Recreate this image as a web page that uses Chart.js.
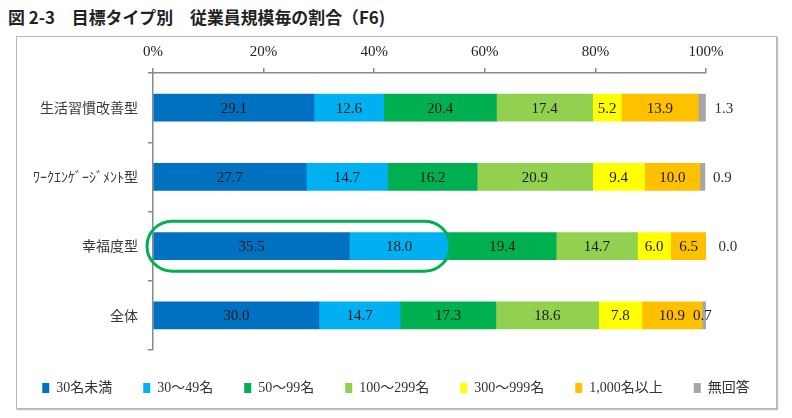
<!DOCTYPE html>
<html lang="ja">
<head>
<meta charset="utf-8">
<title>図 2-3 目標タイプ別 従業員規模毎の割合</title>
<script src="https://cdn.jsdelivr.net/npm/chart.js@4.4.1/dist/chart.umd.min.js"></script>
<style>
  body { margin: 0; background: #fff; }
  #title {
    position: absolute; left: 8px; top: 4px;
    font-family: "Noto Sans CJK JP", sans-serif; font-weight: bold;
    font-size: 16.9px; color: #222; white-space: pre;
  }
  #frame {
    position: absolute; left: 16px; top: 36px; width: 759px; height: 371px;
    border: 1px solid #b8b8b8; box-shadow: 1px 1px 1px rgba(0,0,0,0.25);
  }
  #wrap { position: absolute; left: 0; top: 0; width: 792px; height: 418px; }
</style>
</head>
<body>
<div id="title">図 2-3　目標タイプ別　従業員規模毎の割合（F6)</div>
<div id="frame"></div>
<div id="wrap"><canvas id="chart"></canvas></div>
<script>
const categories = ["生活習慣改善型", "ﾜｰｸｴﾝｹﾞｰｼﾞﾒﾝﾄ型", "幸福度型", "全体"];
const seriesNames = ["30名未満", "30～49名", "50～99名", "100～299名", "300～999名", "1,000名以上", "無回答"];
const under30 = [29.1, 27.7, 35.5, 30.0];
const from30to49 = [12.6, 14.7, 18.0, 14.7];
const from50to99 = [20.4, 16.2, 19.4, 17.3];
const from100to299 = [17.4, 20.9, 14.7, 18.6];
const from300to999 = [5.2, 9.4, 6.0, 7.8];
const over1000 = [13.9, 10.0, 6.5, 10.9];
const noAnswer = [1.3, 0.9, 0.0, 0.7];
const xTicks = [0, 20, 40, 60, 80, 100];

const colors = ["#0070C0", "#00B0F0", "#00B050", "#92D050", "#FFFF00", "#FFC000", "#A6A6A6"];
const serif = "'Liberation Serif', 'Noto Sans CJK JP', serif";
const axisGray = "#8a8a8a";

// highlighted row (幸福度型) and how many segments the ring covers
const highlightRow = 2;
const highlightSegments = 2;

const valueLabels = {
  id: "valueLabels",
  afterDatasetsDraw(chart) {
    const ctx = chart.ctx;
    const last = chart.data.datasets.length - 1;
    const outsideShift = [9, 8, 12, -13];
    ctx.save();
    ctx.font = "15px " + serif;
    ctx.fillStyle = "#1a1a1a";
    ctx.textBaseline = "middle";
    chart.data.datasets.forEach((ds, di) => {
      const meta = chart.getDatasetMeta(di);
      meta.data.forEach((bar, i) => {
        const text = ds.data[i].toFixed(1);
        if (di === last) {
          ctx.textAlign = "left";
          ctx.fillStyle = i === 3 ? "#1a1a1a" : "#333";
          ctx.fillText(text, bar.x + outsideShift[i], bar.y + 1);
        } else {
          ctx.textAlign = "center";
          ctx.fillStyle = "#1a1a1a";
          ctx.fillText(text, (bar.x + bar.base) / 2, bar.y + 1);
        }
      });
    });
    ctx.restore();
  },
};

const highlightRing = {
  id: "highlightRing",
  afterDraw(chart) {
    const ctx = chart.ctx;
    const xs = chart.scales.x;
    const ys = chart.scales.y;
    let sum = 0;
    for (let k = 0; k < highlightSegments; k++) sum += chart.data.datasets[k].data[highlightRow];
    const left = xs.getPixelForValue(0) - 6;
    const right = xs.getPixelForValue(sum) + 1;
    const cy = ys.getPixelForValue(highlightRow);
    ctx.save();
    ctx.strokeStyle = "#00B050";
    ctx.lineWidth = 3;
    ctx.beginPath();
    ctx.roundRect(left, cy - 25, right - left, 50, 25);
    ctx.stroke();
    ctx.restore();
  },
};

function buildChart() {
  const ctx = document.getElementById("chart").getContext("2d");
  const values = [under30, from30to49, from50to99, from100to299, from300to999, over1000, noAnswer];
  new Chart(ctx, {
    type: "bar",
    data: {
      labels: categories,
      datasets: values.map((v, i) => ({
        label: seriesNames[i],
        data: v,
        backgroundColor: colors[i],
        borderWidth: 0,
        barThickness: 27,
      })),
    },
    options: {
      indexAxis: "y",
      responsive: true,
      maintainAspectRatio: false,
      animation: false,
      layout: { padding: { left: 0, right: 0, top: 0, bottom: 13 } },
      scales: {
        x: {
          position: "top",
          stacked: true,
          min: 0,
          max: 100,
          afterBuildTicks(scale) {
            scale.ticks = xTicks.map((v) => ({ value: v }));
          },
          afterFit(scale) {
            scale.height = 73;
          },
          ticks: {
            callback: (v) => v + "%",
            font: { family: serif, size: 15 },
            color: "#222",
            padding: 7,
          },
          grid: { drawOnChartArea: false, tickLength: 5, color: axisGray, lineWidth: 1.5 },
          border: { color: axisGray, width: 1.5 },
        },
        y: {
          stacked: true,
          afterFit(scale) {
            scale.width = 153;
          },
          ticks: {
            font: { family: "'Noto Sans CJK JP', sans-serif", size: 14 },
            color: "#3a3a3a",
            padding: 10,
          },
          grid: { drawOnChartArea: false, tickLength: 5, color: axisGray, lineWidth: 1.5 },
          border: { color: axisGray, width: 1.5 },
        },
        // empty axis on the right, only there to keep room for the outside labels
        yRight: {
          axis: "y",
          position: "right",
          afterFit(scale) {
            scale.width = 86;
          },
          ticks: { display: false },
          grid: { display: false },
          border: { display: false },
        },
      },
      plugins: {
        legend: {
          position: "bottom",
          labels: {
            boxWidth: 7,
            boxHeight: 10,
            padding: 31,
            font: { family: serif, size: 14 },
            color: "#333",
          },
        },
        tooltip: { enabled: false },
      },
    },
    plugins: [valueLabels, highlightRing],
  });
}

document.addEventListener("DOMContentLoaded", () => {
  buildChart();
});
</script>
</body>
</html>
